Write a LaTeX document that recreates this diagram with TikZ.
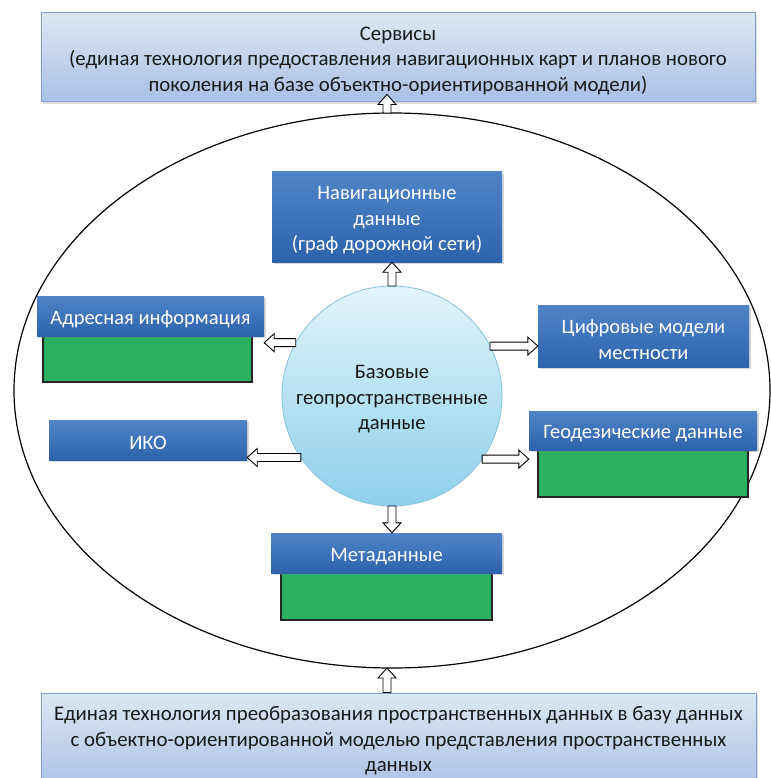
\documentclass[tikz,border=0pt]{standalone}
\usepackage{fontspec}
\setmainfont{Carlito}
\usetikzlibrary{arrows.meta,shadows,shapes.geometric,calc}
\definecolor{lbtop}{HTML}{DDE7F3}
\definecolor{lbbot}{HTML}{A8C1E5}
\definecolor{lbdraw}{HTML}{7F9FCF}
\definecolor{btop}{HTML}{4F84C8}
\definecolor{bbot}{HTML}{2C63AC}
\definecolor{gfill}{HTML}{29B060}
\definecolor{ctop}{HTML}{E2F4FC}
\definecolor{cbot}{HTML}{8ED0EA}
\definecolor{cdraw}{HTML}{86C3DD}
\begin{document}
\begin{tikzpicture}[x=1pt,y=-1pt,
  lightbox/.style={rectangle, draw=lbdraw, line width=1pt, top color=lbtop, bottom color=lbbot,
    inner sep=0pt, drop shadow={shadow xshift=1.5pt, shadow yshift=-2pt, opacity=0.25}},
  lighttext/.style={align=center, font=\fontsize{20.8}{25.5}\selectfont, text=black!90, inner sep=0pt},
  bluebox/.style={rectangle, top color=btop, bottom color=bbot, draw=none, inner sep=0pt,
    drop shadow={shadow xshift=1.5pt, shadow yshift=-2pt, opacity=0.3}},
  bluetext/.style={align=center, font=\fontsize{20.5}{25.5}\selectfont, text=white, inner sep=0pt},
  greenbox/.style={rectangle, draw=black!85, line width=1.3pt, fill=gfill, inner sep=0pt},
  hollow/.style={draw=black, line width=0.9pt, fill=white, line join=miter, to path={
    let \p1=(\tikztostart), \p2=(\tikztotarget),
        \n1={atan2(\y2-\y1,\x2-\x1)}, \n2={veclen(\x2-\x1,\y2-\y1)-10pt} in
    ($(\p1)+(\n1+90:4pt)$) -- ++(\n1:\n2) -- ++(\n1+90:5pt) -- (\p2)
    -- ($(\p1)+(\n1-90:9pt)+(\n1:\n2)$) -- ++(\n1+90:5pt)
    -- ($(\p1)+(\n1-90:4pt)$) -- cycle}},
  ]
\useasboundingbox (0,0) rectangle (770,778);
\fill[white] (0,0) rectangle (770,778);

% outer ellipse
\node[ellipse, draw=black, line width=1.2pt, minimum width=756pt, minimum height=555pt,
  inner sep=0pt, outer sep=0pt] (ell) at (392,390.5) {};

% top and bottom boxes
\node[lightbox, minimum width=714pt, minimum height=89pt] (srv) at (398,57.5) {};
\node[lighttext] (srvtext) at ([yshift=-3pt]srv.center)
  {Сервисы\\(единая технология предоставления навигационных карт и планов нового\\поколения на базе объектно-ориентированной модели)};
\node[lightbox, minimum width=715pt, minimum height=98pt] (bot) at (398.5,742) {};
\node[lighttext] (bottext) at ([yshift=1pt]bot.center)
  {Единая технология преобразования пространственных данных в базу данных\\с объектно-ориентированной моделью представления пространственных\\данных};

% central circle
\node[circle, minimum size=220pt, inner sep=0pt, outer sep=0pt, draw=cdraw, line width=0.8pt,
  top color=ctop, bottom color=cbot] (circ) at (392,396) {};
\node[lighttext, font=\fontsize{20.6}{25.5}\selectfont] (circtext) at ([yshift=-3.5pt]circ.center)
  {Базовые\\геопространственные\\данные};

% blue boxes
\node[bluebox, minimum width=230pt, minimum height=90pt] (nav) at (387,217) {};
\node[bluetext] (navtext) at ([yshift=-3.5pt]nav.center) {Навигационные\\данные\\(граф дорожной сети)};

\node[greenbox, minimum width=209pt, minimum height=46pt] (addrg) at (147.5,359) {};
\node[bluebox, minimum width=227pt, minimum height=40pt] (addrh) at (150.5,316) {};
\node[bluetext] (addrtext) at ([yshift=-3.5pt]addrh.center) {Адресная информация};

\node[bluebox, minimum width=211pt, minimum height=62pt] (dig) at (643.5,336) {};
\node[bluetext] (digtext) at ([yshift=-3.5pt]dig.center) {Цифровые модели\\местности};

\node[bluebox, minimum width=198pt, minimum height=40pt] (iko) at (148,440) {};
\node[bluetext] (ikotext) at ([yshift=-3pt]iko.center) {ИКО};

\node[greenbox, minimum width=210pt, minimum height=47pt] (geog) at (643,473.5) {};
\node[bluebox, minimum width=228pt, minimum height=39pt] (geoh) at (643,430.5) {};
\node[bluetext] (geotext) at ([yshift=-3.5pt]geoh.center) {Геодезические данные};

\node[greenbox, minimum width=211pt, minimum height=47pt] (metag) at (386.5,596.5) {};
\node[bluebox, minimum width=231pt, minimum height=40pt] (metah) at (386.5,553) {};
\node[bluetext] (metatext) at ([yshift=-3.5pt]metah.center) {Метаданные};

% arrow end points on the ellipse and outer boxes
\coordinate (etop) at ([xshift=-5pt]ell.north);
\coordinate (ebot) at ([xshift=-5pt]ell.south);
\coordinate (tbase) at (srv.south -| etop);
\coordinate (ttip) at ([yshift=8pt]tbase);

% arrows
\draw[hollow] (etop) to (ttip);
\draw[hollow] (bot.north -| ebot) to (ebot);
\draw[hollow] (circ.north) to (nav.south -| circ.north);
\draw[hollow] (circ.south) to (metah.north -| circ.south);
\draw[hollow] (circ.151) to (addrh.east |- circ.151);
\draw[hollow] (circ.27.6) to (dig.west |- circ.27.6);
\draw[hollow] (circ.214.3) to (iko.east |- circ.214.3);
\draw[hollow] (circ.325.7) to (geoh.west |- circ.325.7);
\end{tikzpicture}
\end{document}
